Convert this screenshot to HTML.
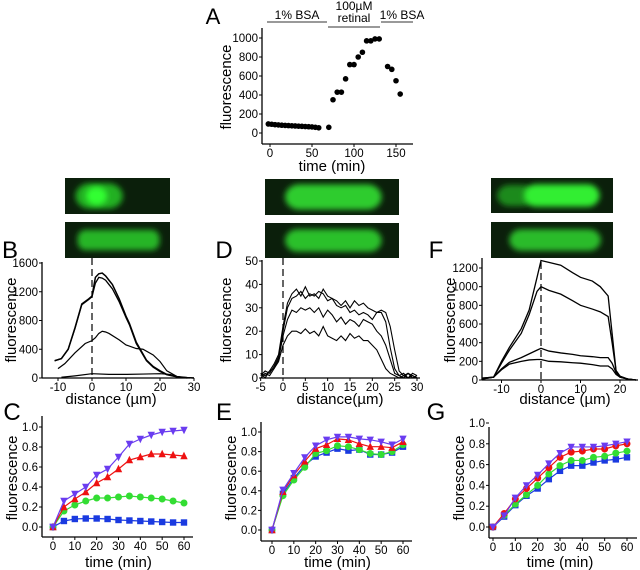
<!DOCTYPE html>
<html><head><meta charset="utf-8"><style>
html,body{margin:0;padding:0;background:#fff}
svg{display:block;font-family:"Liberation Sans",sans-serif}
</style></head><body>
<svg id="fig" width="640" height="570" viewBox="0 0 640 570" xmlns="http://www.w3.org/2000/svg">
<defs>
<filter id="blur" x="-30%" y="-60%" width="160%" height="220%"><feGaussianBlur stdDeviation="3"/></filter>
</defs>
<g id="root"></g>
</svg>
<script>
// Panel A data
const aTime=[-2,2,6,10,14,18,22,26,30,34,38,42,46,50,54,58,70,75,80,85,90,95,100,105,110,115,120,125,130,140,145,150,155];
const aVal=[95,92,88,85,82,80,78,76,74,72,70,68,66,64,60,55,60,350,430,430,570,720,720,800,850,970,970,990,990,700,670,550,410];
const aYTicks=[0,200,400,600,800,1000];
const aXTicks=[0,50,100,150];
// Panel B profiles
const bX1=[-11,-9,-7,-5,-3,-1,0,1,2,3,4,5,6,8,10,11,13,16,18,20,22,25,28,30];
const bY1=[240,270,400,700,1030,1100,1140,1400,1450,1460,1420,1360,1300,1100,860,760,500,250,160,100,50,20,5,0];
const bY2=[240,270,400,690,1020,1090,1130,1320,1400,1390,1360,1300,1240,1060,840,740,480,240,150,90,45,15,5,0];
const bX3=[-10,-8,-5,-2,0,1,2,3,4,5,8,10,13,15,18,20,22,25,28];
const bY3=[130,200,350,480,520,560,620,650,640,620,530,460,410,400,320,230,100,20,0];
const bX4=[-9,-5,0,5,10,15,20,23,25,28];
const bY4=[10,30,60,50,50,55,60,50,20,0];
const bYTicks=[0,400,800,1200,1600];
const bXTicks=[-10,0,10,20,30];
// Panel D profiles
const dX=[-5,-4,-3,-2,-1,0,1,2,3,4,5,6,7,8,9,10,11,12,13,14,15,16,17,18,19,20,21,22,23,24,25,26,27,28,29,30];
const dY1=[2,1,3,6,10,22,32,36,38,35,39,35,36,34,38,35,34,33,31,33,30,33,31,32,30,29,28,29,28,22,12,3,1,2,0,1];
const dY2=[1,3,2,5,9,20,30,34,35,37,34,36,35,37,36,33,34,31,30,31,28,29,27,28,27,25,28,28,24,13,4,1,2,0,1,0];
const dY3=[2,0,3,4,8,18,25,29,28,30,29,30,28,30,26,29,27,24,26,23,25,24,22,25,24,23,20,18,14,8,2,1,0,2,1,0];
const dY4=[0,2,1,4,7,14,18,20,20,19,21,19,20,18,22,18,17,16,18,16,19,17,18,16,16,14,12,8,4,2,1,0,1,0,2,1];
const dYTicks=[0,10,20,30,40,50];
const dXTicks=[-5,0,5,10,15,20,25,30];
// Panel F profiles
const fX=[-15,-12,-10,-8,-5,-3,-1,0,2,5,8,10,13,15,17,18,19,20,22,24];
const fY1=[20,30,200,350,550,750,1100,1280,1260,1230,1150,1100,1060,1000,900,500,100,40,10,0];
const fY2=[20,30,180,320,500,700,950,1000,960,920,850,800,760,730,680,400,100,40,10,0];
const fY3=[10,30,120,190,240,280,320,340,310,290,275,260,250,240,240,180,80,30,10,0];
const fY4=[10,30,110,170,200,215,220,220,200,195,185,180,165,150,150,120,60,30,10,0];
const fYTicks=[0,200,400,600,800,1000,1200];
const fXTicks=[-10,0,10,20];
// Time-course panels
const tTime=[0,5,10,15,20,25,30,35,40,45,50,55,60];
const cPurple=[0,0.26,0.33,0.40,0.52,0.58,0.70,0.83,0.88,0.92,0.95,0.96,0.97];
const cRed=[0,0.20,0.28,0.35,0.44,0.50,0.58,0.67,0.70,0.73,0.73,0.72,0.71];
const cGreen=[0,0.16,0.22,0.26,0.29,0.29,0.30,0.31,0.30,0.29,0.28,0.26,0.24];
const cBlue=[0,0.06,0.08,0.085,0.085,0.08,0.07,0.065,0.06,0.055,0.05,0.045,0.045];
const ePurple=[0,0.41,0.58,0.74,0.86,0.92,0.95,0.95,0.93,0.92,0.90,0.87,0.93];
const eRed=[0,0.39,0.56,0.70,0.83,0.87,0.93,0.92,0.88,0.85,0.85,0.84,0.90];
const eGreen=[0,0.35,0.51,0.64,0.78,0.81,0.86,0.85,0.82,0.78,0.77,0.80,0.87];
const eBlue=[0,0.37,0.53,0.66,0.75,0.79,0.83,0.81,0.82,0.77,0.77,0.79,0.85];
const gPurple=[0,0.11,0.28,0.40,0.50,0.61,0.71,0.77,0.77,0.77,0.78,0.80,0.82];
const gRed=[0,0.13,0.27,0.37,0.47,0.57,0.67,0.72,0.73,0.75,0.75,0.78,0.80];
const gGreen=[0,0.11,0.22,0.31,0.40,0.51,0.59,0.64,0.64,0.67,0.68,0.71,0.73];
const gBlue=[0,0.10,0.21,0.30,0.37,0.46,0.54,0.59,0.59,0.62,0.64,0.65,0.67];
const tYTicks=[0,0.2,0.4,0.6,0.8,1.0];
const tXTicks=[0,10,20,30,40,50,60];

const NS="http://www.w3.org/2000/svg";
const root=document.getElementById('root');
function mk(tag,attrs,parent){const e=document.createElementNS(NS,tag);for(const k in attrs)e.setAttribute(k,attrs[k]);(parent||root).appendChild(e);return e;}
function txt(s,x,y,size,anchor,parent,rot){const t=mk('text',{x:x,y:y,'font-size':size,'text-anchor':anchor||'middle',fill:'#000'},parent);if(rot)t.setAttribute('transform','rotate(-90 '+x+' '+y+')');t.textContent=s;return t;}
function lin(d0,d1,r0,r1){return v=>r0+(v-d0)*(r1-r0)/(d1-d0);}

function axes(g,o){
  const yl=mk('line',{x1:o.ax,y1:o.yTop,x2:o.ax,y2:o.ay,stroke:'#000','stroke-width':1.3},g);
  
  const xl=mk('line',{x1:o.ax,y1:o.ay,x2:o.xEnd,y2:o.ay,stroke:'#000','stroke-width':1.3},g);
  
  o.yt.forEach(v=>{const y=o.sy(v);mk('line',{x1:o.ax-3,y1:y,x2:o.ax,y2:y,stroke:'#000'},g);
    const t=txt(o.fmt?o.fmt(v):String(v),o.ax-4,y+4,11.5,'end',g);});
  o.xt.forEach(v=>{const x=o.sx(v);mk('line',{x1:x,y1:o.ay,x2:x,y2:o.ay+3,stroke:'#000'},g);
    const t=txt(String(v),x,o.ay+13,11.5,'middle',g);});
}
function line(g,xs,ys,sx,sy,color,w,name){
  const p=mk('polyline',{points:xs.map((x,i)=>sx(x)+','+sy(ys[i])).join(' '),fill:'none',stroke:color,'stroke-width':w||1.2},g);
  return p;
}
function marker(g,type,x,y,color){
  let m;const r=3.2;
  if(type==='sq')m=mk('rect',{x:x-r,y:y-r,width:2*r,height:2*r,fill:color},g);
  else if(type==='ci')m=mk('circle',{cx:x,cy:y,r:r+0.3,fill:color},g);
  else if(type==='up')m=mk('polygon',{points:`${x},${y-r-1} ${x-r-0.5},${y+r} ${x+r+0.5},${y+r}`,fill:color},g);
  else m=mk('polygon',{points:`${x},${y+r+1} ${x-r-0.5},${y-r} ${x+r+0.5},${y-r}`,fill:color},g);
  
}
function series(g,xs,ys,sx,sy,color,type,name){
  line(g,xs,ys,sx,sy,color,1.2,name);
  xs.forEach((x,i)=>marker(g,type,sx(x),sy(ys[i]),color));
}
function panelG(name){const g=mk('g',{});return g;}
function cellImage(g,x,y,w,h,shapes,name){
  const ig=mk('g',{},g);
  mk('rect',{x:x,y:y,width:w,height:h,fill:'#0b1f0b'},ig);
  shapes.forEach(s=>mk('rect',{x:x+s[0]*w,y:y+s[1]*h,width:s[2]*w,height:s[3]*h,rx:s[5]||8,fill:s[4],filter:'url(#blur)'},ig));
}

const PURPLE='#6a3cf0',RED='#ee1111',GREEN='#33dd33',BLUE='#1a3ae0';

// ---------- Panel A ----------
(function(){
  const g=panelG('panel-a');
  const sx=lin(0,150,270,396), sy=lin(0,1000,133,38);
  axes(g,{ax:262,ay:144,xEnd:413,yTop:28,sx:sx,sy:sy,xt:aXTicks,yt:aYTicks});
  aTime.forEach((t,i)=>{const c=mk('circle',{cx:sx(t),cy:sy(aVal[i]),r:2.8,fill:'#000'},g);});
  let t=txt('A',213,24,22,'middle',g);
  t=txt('fluorescence',231,87,15,'middle',g,true);
  t=txt('time (min)',332,171,15,'middle',g);
  [['1% BSA',297,19,267,327,22],['1% BSA',402,19,381,413,22]].forEach(b=>{const l=txt(b[0],b[1],b[2],12,'middle',g);mk('line',{x1:b[3],y1:b[5],x2:b[4],y2:b[5],stroke:'#333','stroke-width':1},g);});
  let l=txt('100\u00b5M',354,10,12,'middle',g);
  l=txt('retinal',354,22,12,'middle',g);
  mk('line',{x1:328,y1:27,x2:380,y2:27,stroke:'#333','stroke-width':1},g);
})();

// ---------- Panel B ----------
(function(){
  const g=panelG('panel-b');
  cellImage(g,65,178,105,36,[[0.1,0.15,0.45,0.7,'#22b022',14],[0.2,0.25,0.2,0.5,'#33ff33',10]],'cell-image-top');
  cellImage(g,65,222,105,36,[[0.12,0.22,0.78,0.56,'#25b525',8]],'cell-image-bottom');
  const sx=lin(0,10,92,126), sy=lin(0,1600,378,263);
  mk('line',{x1:92,y1:258,x2:92,y2:378,stroke:'#000','stroke-dasharray':'7,4','stroke-width':1.2},g);
  axes(g,{ax:42,ay:378,xEnd:190,yTop:262,sx:sx,sy:sy,xt:bXTicks,yt:bYTicks});
  line(g,bX1,bY1,sx,sy,'#000',1.5,'profile-1');line(g,bX1,bY2,sx,sy,'#000',1.3,'profile-2');
  line(g,bX3,bY3,sx,sy,'#000',1.2,'profile-3');line(g,bX4,bY4,sx,sy,'#000',1.2,'profile-4');
  let t=txt('B',10,258,24,'middle',g);
  t=txt('fluorescence',16,320,15,'middle',g,true);
  t=txt('distance (\u00b5m)',111,404,15,'middle',g);
})();

// ---------- Panel D ----------
(function(){
  const g=panelG('panel-d');
  cellImage(g,265,179,134,36,[[0.15,0.15,0.72,0.7,'#2fcc2f',14]],'cell-image-top');
  cellImage(g,265,223,134,35,[[0.15,0.18,0.72,0.64,'#2bc02b',12]],'cell-image-bottom');
  const sx=lin(0,30,283,417), sy=lin(0,50,378,261);
  mk('line',{x1:283,y1:258,x2:283,y2:378,stroke:'#000','stroke-dasharray':'7,4','stroke-width':1.2},g);
  axes(g,{ax:262,ay:378,xEnd:420,yTop:260,sx:sx,sy:sy,xt:dXTicks,yt:dYTicks});
  [dY1,dY2,dY3,dY4].forEach((ys,i)=>line(g,dX,ys,sx,sy,'#000',1.1,'profile-'+(i+1)));
  let t=txt('D',224,258,24,'middle',g);
  t=txt('fluorescence',231,320,15,'middle',g,true);
  t=txt('distance(\u00b5m)',340,404,15,'middle',g);
})();

// ---------- Panel F ----------
(function(){
  const g=panelG('panel-f');
  cellImage(g,491,178,122,35,[[0.05,0.2,0.3,0.6,'#1a8a1a',12],[0.27,0.18,0.62,0.64,'#33ee33',12]],'cell-image-top');
  cellImage(g,491,222,122,36,[[0.15,0.2,0.75,0.6,'#2bbb2b',12]],'cell-image-bottom');
  const sx=lin(0,10,541,580.5), sy=lin(0,1200,380,268);
  mk('line',{x1:541,y1:262,x2:541,y2:380,stroke:'#000','stroke-dasharray':'7,4','stroke-width':1.2},g);
  axes(g,{ax:482,ay:380,xEnd:638,yTop:258,sx:sx,sy:sy,xt:fXTicks,yt:fYTicks});
  [fY1,fY2,fY3,fY4].forEach((ys,i)=>line(g,fX,ys,sx,sy,'#000',1.3,'profile-'+(i+1)));
  let t=txt('F',436,258,24,'middle',g);
  t=txt('fluorescence',455,320,15,'middle',g,true);
  t=txt('distance (\u00b5m)',565,404,15,'middle',g);
})();

// ---------- Time course panels ----------
function timePanel(name,letter,lx,o,data,types){
  const g=panelG(name);
  const sx=lin(0,60,o.x0,o.x60), sy=lin(0,1,o.y0,o.y1);
  axes(g,{ax:o.ax,ay:o.ay,xEnd:o.xEnd,yTop:o.yTop,sx:sx,sy:sy,xt:tXTicks,yt:tYTicks,fmt:v=>v.toFixed(1)});
  const cols=[BLUE,GREEN,RED,PURPLE],nm=['series-blue','series-green','series-red','series-purple'];
  data.forEach((ys,i)=>series(g,tTime,ys,sx,sy,cols[i],types[i],nm[i]));
  let t=txt(letter,lx,420,24,'middle',g);
  t=txt('fluorescence',o.ax-25,478,15,'middle',g,true);
  t=txt('time (min)',(o.x0+o.x60)/2,567,15,'middle',g);
}
timePanel('panel-c','C',12,{ax:42,ay:537,xEnd:193,yTop:416,x0:53,x60:184,y0:527,y1:427},[cBlue,cGreen,cRed,cPurple],['sq','ci','up','dn']);
timePanel('panel-e','E',224,{ax:261,ay:541,xEnd:412,yTop:422,x0:272,x60:403,y0:530,y1:432},[eBlue,eGreen,eRed,ePurple],['sq','ci','up','dn']);
timePanel('panel-g','G',436,{ax:489,ay:538,xEnd:637,yTop:427,x0:493,x60:627,y0:527,y1:423},[gBlue,gGreen,gRed,gPurple],['sq','ci','ci','dn']);
</script>
</body></html>
